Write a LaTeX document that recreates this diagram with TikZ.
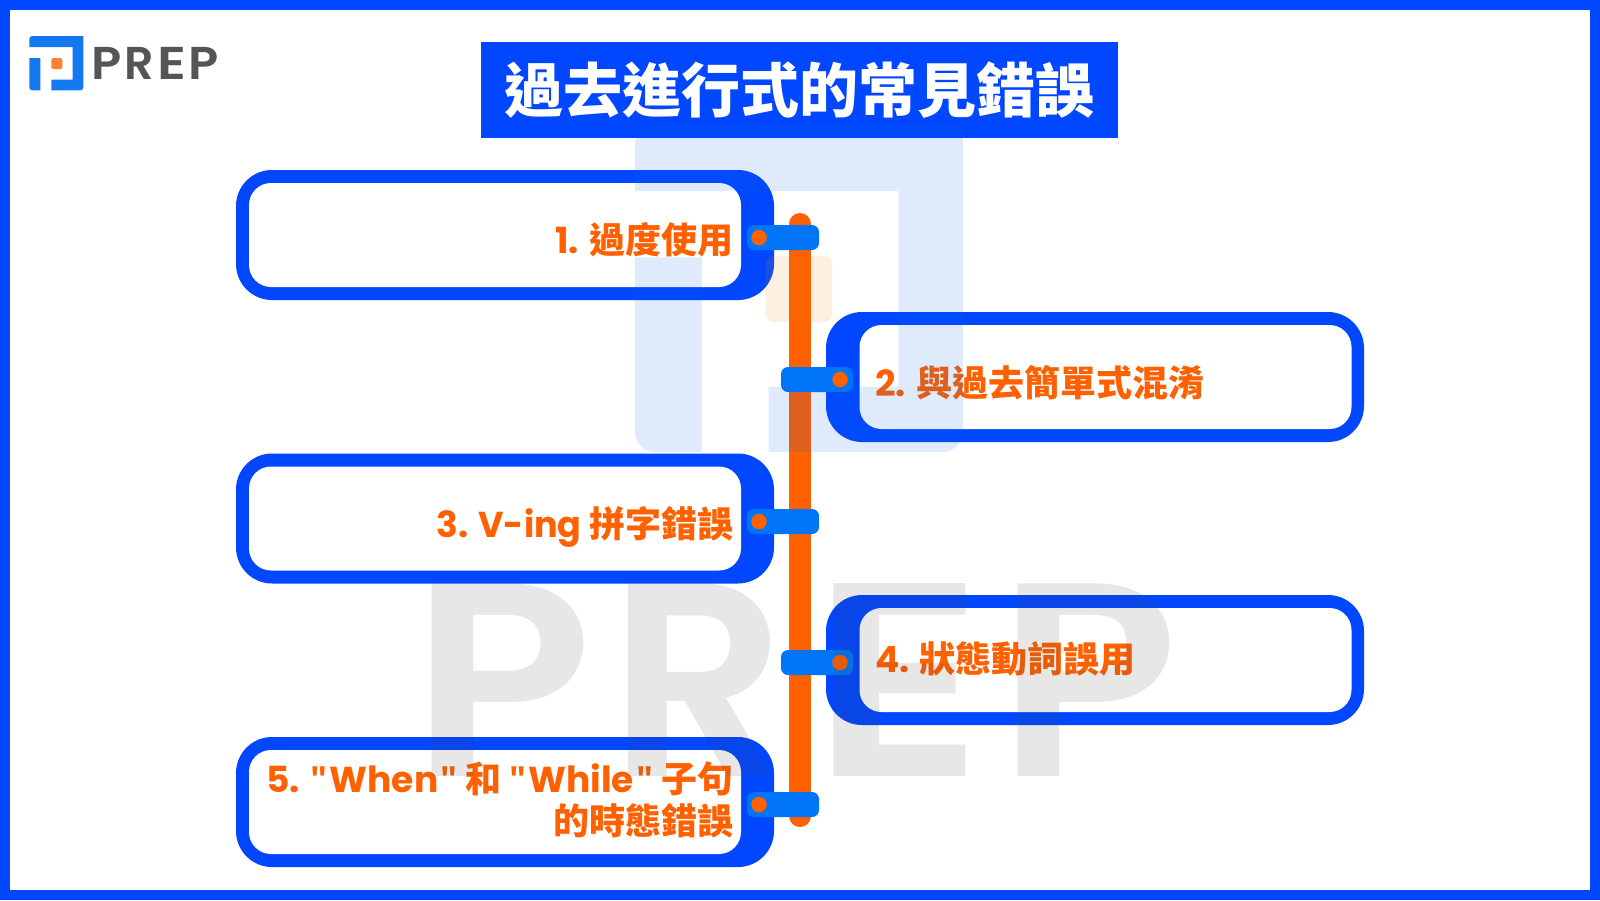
\documentclass[tikz,border=0pt]{standalone}
\usepackage{graphicx}
\usepackage{fontspec}
\setmainfont{Poppins}
\newfontfamily\cjk{Noto Sans CJK TC}
\newfontfamily\brandfont{Poppins SemiBold}
\newfontfamily\quotefont{Open Sans}
\definecolor{frameblue}{HTML}{0047FF}
\definecolor{pillblue}{HTML}{0075F8}
\definecolor{spineorange}{HTML}{FF6000}
\definecolor{logoblue}{HTML}{1478F0}
\definecolor{logoorange}{HTML}{FF8030}
\definecolor{logogray}{HTML}{555555}
\definecolor{wmblue}{HTML}{0A66E8}
\definecolor{wmorange}{HTML}{F78C11}
\definecolor{wmgray}{HTML}{464646}
\tikzset{
  outerbox/.style={fill=frameblue,rounded corners=36pt,inner sep=0pt,minimum width=538pt,minimum height=130pt},
  innerbox/.style={fill=white,rounded corners=22pt,inner sep=0pt,minimum width=492pt,minimum height=104pt},
  pill/.style={fill=pillblue,rounded corners=7pt,inner sep=0pt,minimum width=72pt,minimum height=25pt},
  dot/.style={fill=spineorange,circle,inner sep=0pt,minimum size=15.5pt},
  label/.style={text=spineorange,inner sep=0pt,font=\fontsize{36}{42}\selectfont\bfseries},
  spine/.style={draw=spineorange,line width=22pt,line cap=round},
}
\newcommand{\qq}{{\quotefont\symbol{34}}}
% #1 corner radius, #2 colour
\newcommand{\logoshape}[2]{%
  \fill[#2] (0,11) [rounded corners=#1] -- (0,0) [sharp corners] -- (54,0) [rounded corners=#1] -- (54,54.3) [sharp corners] -- (22,54.3) -- (22,43.5) -- (43.4,43.5) -- (43.4,11) -- cycle;
  \fill[#2] (0,22) [rounded corners=#1] -- (0,54.3) [sharp corners] -- (11,54.3) -- (11,22) -- cycle;
}
\newcommand{\brandword}[4]{\fontsize{#1}{#1}\brandfont\selectfont\makebox[#2pt][l]{\scalebox{1.08}[1]{P}}\makebox[#3pt][l]{R}\makebox[#4pt][l]{\scalebox{1.18}[1]{E}}\scalebox{1.08}[1]{P}}
\begin{document}
\begin{tikzpicture}[x=1pt,y=-1pt]
\useasboundingbox (0,0) rectangle (1600,900);
\fill[white] (0,0) rectangle (1600,900);
\draw[frameblue,line width=10pt] (5,5) rectangle (1595,895);

% small logo
\begin{scope}[shift={(29.3,36)}]
  \logoshape{3pt}{logoblue}
  \fill[logoorange,rounded corners=1.5pt] (22,22) rectangle (33,33);
\end{scope}
\node[anchor=base west,inner sep=0pt,text=logogray] (brand) at (91.5,79.5) {\brandword{46}{33}{32.5}{31}};

% title
\node[fill=frameblue,inner sep=0pt,minimum width=637pt,minimum height=96pt,text=white,font=\fontsize{59}{59}\cjk\bfseries] (title) at (799.5,90) {過去進行式的常見錯誤};

% spine
\coordinate (spinetop) at (800,224);
\coordinate (spinebot) at (800,816);
\draw[spine] (spinetop) -- (spinebot);

% boxes
\node[outerbox] (box1) at (505,235) {};
\node[innerbox] (in1) at (495,235) {};
\node[outerbox] (box2) at (1095,377) {};
\node[innerbox] (in2) at (1105.5,377) {};
\node[outerbox] (box3) at (505,518.5) {};
\node[innerbox] (in3) at (495,518.5) {};
\node[outerbox] (box4) at (1095,660) {};
\node[innerbox] (in4) at (1105.5,660) {};
\node[outerbox] (box5) at (505,802) {};
\node[innerbox] (in5) at (495,802) {};

% pills and dots
\node[pill] (p1) at (783,237.5) {};
\node[dot] (d1) at (759,237.5) {};
\node[pill] (p2) at (817,379.5) {};
\node[dot] (d2) at (840,379.5) {};
\node[pill] (p3) at (783,521.5) {};
\node[dot] (d3) at (759,521.5) {};
\node[pill] (p4) at (817,662.5) {};
\node[dot] (d4) at (840,662.5) {};
\node[pill] (p5) at (783,804.5) {};
\node[dot] (d5) at (759,804.5) {};

% labels
\node[label,anchor=base east] (t1) at (733.5,253) {1. {\cjk 過度使用}};
\node[label,anchor=base west] (t2) at (875,396.5) {2. {\cjk 與過去簡單式混淆}};
\node[label,anchor=base east] (t3) at (733.5,537) {3. \scalebox{0.97}[1]{V-ing} {\cjk 拼字錯誤}};
\node[label,anchor=base west] (t4) at (875,672) {4. {\cjk 狀態動詞誤用}};
\node[label,anchor=east,align=right] (t5) at (733.5,800) {5. \qq\kern2.5pt When\kern2.5pt\qq{} {\cjk 和} \qq\kern2.5pt While\kern2.5pt\qq{} {\cjk 子句}\\{\cjk 的時態錯誤}};

% watermark on top of everything
\begin{scope}[opacity=0.13]
  \begin{scope}[shift={(635,125)},xscale=6.07,yscale=6.02]
    \logoshape{20pt}{wmblue}
  \end{scope}
  \fill[wmorange,rounded corners=8pt] (766,256) rectangle (832,322);
  \node[anchor=base west,inner sep=0pt,text=wmgray] (wmword) at (411,776) {\brandword{276}{198}{202}{186}};
\end{scope}
\end{tikzpicture}
\end{document}
